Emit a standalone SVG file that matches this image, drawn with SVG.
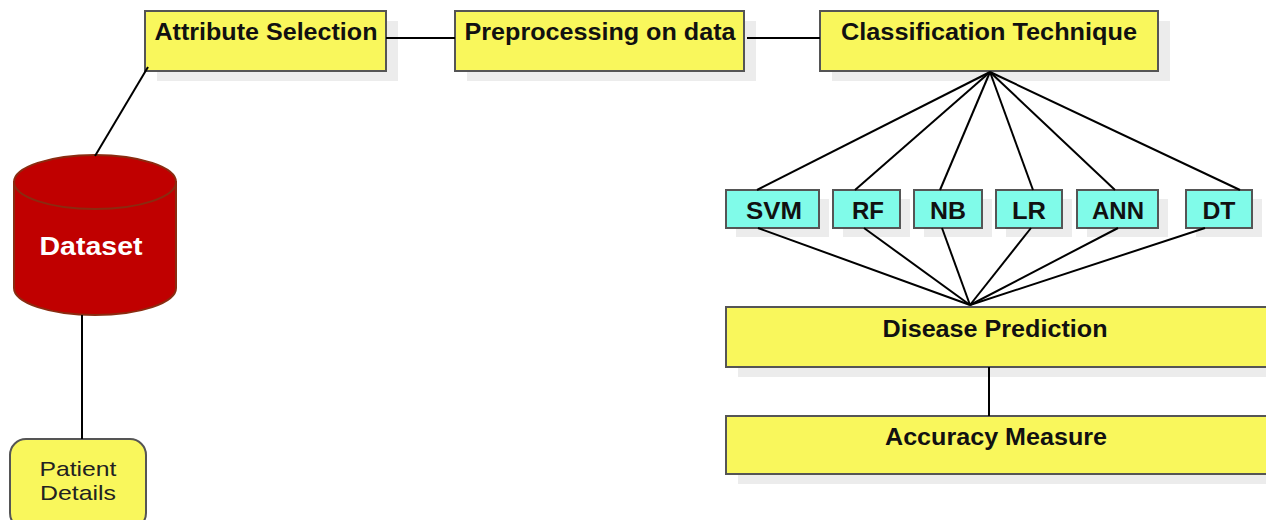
<svg xmlns="http://www.w3.org/2000/svg" width="1266" height="520" viewBox="0 0 1266 520">
<style>
.bg{fill:#ffffff}
.sh{fill:#ececec}
.yb{fill:#f9f75c;stroke:#555;stroke-width:2}
.cb{fill:#80fbe9;stroke:#555;stroke-width:2}
.t{font-family:"Liberation Sans",Arial,sans-serif;font-weight:bold;font-size:23.5px;fill:#111;text-anchor:middle}
.ts{font-family:"Liberation Sans",Arial,sans-serif;font-weight:bold;font-size:23px;fill:#111;text-anchor:middle}
.tn{font-family:"Liberation Sans",Arial,sans-serif;font-size:21px;fill:#222;text-anchor:middle}
.conn line{stroke:#000;stroke-width:2}
</style>
<rect class="bg" width="1266" height="520"/>
<g id="attribute-selection">
<rect class="sh" x="157" y="21" width="241" height="60"/>
<rect class="yb" x="145" y="11" width="241" height="60"/>
<text class="t" x="266" y="40" textLength="223" lengthAdjust="spacingAndGlyphs">Attribute Selection</text>
</g>
<g id="preprocessing">
<rect class="sh" x="467" y="21" width="289" height="60"/>
<rect class="yb" x="455" y="11" width="289" height="60"/>
<text class="t" x="600" y="40" textLength="271" lengthAdjust="spacingAndGlyphs">Preprocessing on data</text>
</g>
<g id="classification">
<rect class="sh" x="832" y="21" width="338" height="60"/>
<rect class="yb" x="820" y="11" width="338" height="60"/>
<text class="t" x="989" y="40" textLength="296" lengthAdjust="spacingAndGlyphs">Classification Technique</text>
</g>
<g id="dataset">
<path d="M14,182 v106 a81,27 0 0 0 162,0 v-106 z" fill="#c00000" stroke="#8a2b10" stroke-width="2"/>
<ellipse cx="95" cy="182" rx="81" ry="27" fill="#c00000" stroke="#8a2b10" stroke-width="2"/>
<text x="91" y="255" font-family="'Liberation Sans',sans-serif" font-weight="bold" font-size="25" fill="#ffffff" text-anchor="middle" textLength="103" lengthAdjust="spacingAndGlyphs">Dataset</text>
</g>
<g id="patient-details">
<rect class="yb" x="10" y="439" width="136" height="90" rx="16"/>
<text class="tn" x="78" y="476" textLength="77" lengthAdjust="spacingAndGlyphs">Patient</text>
<text class="tn" x="78" y="500" textLength="76" lengthAdjust="spacingAndGlyphs">Details</text>
</g>
<g id="svm">
<rect class="sh" x="736" y="199" width="93" height="38"/>
<rect class="cb" x="726" y="190" width="93" height="38"/>
<text class="ts" x="774" y="219" textLength="56" lengthAdjust="spacingAndGlyphs">SVM</text>
</g>
<g id="rf">
<rect class="sh" x="843" y="199" width="67" height="38"/>
<rect class="cb" x="833" y="190" width="67" height="38"/>
<text class="ts" x="868" y="219" textLength="32" lengthAdjust="spacingAndGlyphs">RF</text>
</g>
<g id="nb">
<rect class="sh" x="924" y="199" width="68" height="38"/>
<rect class="cb" x="914" y="190" width="68" height="38"/>
<text class="ts" x="948" y="219" textLength="36" lengthAdjust="spacingAndGlyphs">NB</text>
</g>
<g id="lr">
<rect class="sh" x="1006" y="199" width="66" height="38"/>
<rect class="cb" x="996" y="190" width="66" height="38"/>
<text class="ts" x="1029" y="219" textLength="34" lengthAdjust="spacingAndGlyphs">LR</text>
</g>
<g id="ann">
<rect class="sh" x="1087" y="199" width="81" height="38"/>
<rect class="cb" x="1077" y="190" width="81" height="38"/>
<text class="ts" x="1118" y="219" textLength="52" lengthAdjust="spacingAndGlyphs">ANN</text>
</g>
<g id="dt">
<rect class="sh" x="1196" y="199" width="66" height="38"/>
<rect class="cb" x="1186" y="190" width="66" height="38"/>
<text class="ts" x="1219" y="219" textLength="33" lengthAdjust="spacingAndGlyphs">DT</text>
</g>
<g id="disease-prediction">
<rect class="sh" x="738" y="317" width="540" height="60"/>
<rect class="yb" x="726" y="307" width="545" height="60"/>
<text class="t" x="995" y="337" textLength="225" lengthAdjust="spacingAndGlyphs">Disease Prediction</text>
</g>
<g id="accuracy-measure">
<rect class="sh" x="738" y="426" width="540" height="58"/>
<rect class="yb" x="726" y="416" width="545" height="58"/>
<text class="t" x="996" y="445" textLength="222" lengthAdjust="spacingAndGlyphs">Accuracy Measure</text>
</g>
<g id="connectors" class="conn">
<line x1="386" y1="38" x2="455" y2="38"/>
<line x1="747" y1="38" x2="820" y2="38"/>
<line x1="148" y1="67" x2="95" y2="156"/>
<line x1="82" y1="315" x2="82" y2="439"/>
<line x1="990" y1="72" x2="757" y2="190"/>
<line x1="990" y1="72" x2="855" y2="190"/>
<line x1="990" y1="72" x2="940" y2="190"/>
<line x1="990" y1="72" x2="1033" y2="190"/>
<line x1="990" y1="72" x2="1115" y2="190"/>
<line x1="990" y1="72" x2="1240" y2="190"/>
<line x1="758" y1="228" x2="970" y2="305"/>
<line x1="864" y1="228" x2="970" y2="305"/>
<line x1="942" y1="228" x2="970" y2="305"/>
<line x1="1031" y1="228" x2="970" y2="305"/>
<line x1="1118" y1="228" x2="970" y2="305"/>
<line x1="1205" y1="228" x2="970" y2="305"/>
<line x1="989" y1="367" x2="989" y2="416"/>
</g>
</svg>
